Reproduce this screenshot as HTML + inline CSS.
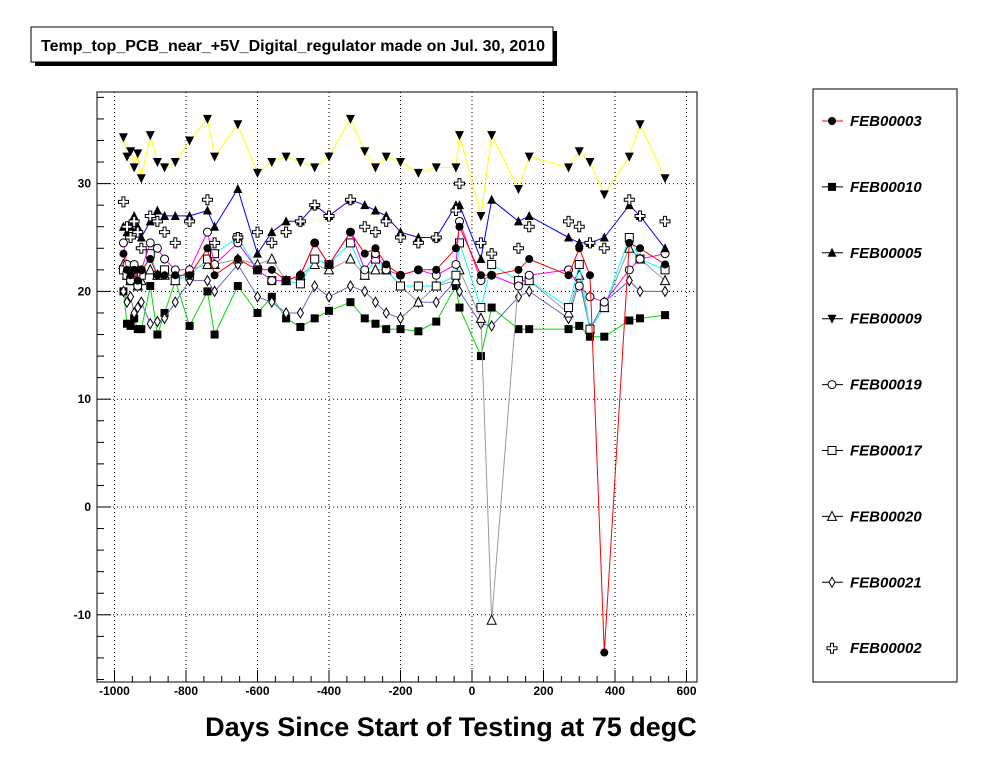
<!DOCTYPE html>
<html><head><meta charset="utf-8"><style>
body{margin:0;background:#fff;}
svg{display:block;font-family:"Liberation Sans",Arial,sans-serif;}
</style></head><body>
<svg id="c" width="996" height="772"></svg>
<script>
const days=[-975,-965,-955,-945,-935,-925,-900,-880,-860,-830,-790,-740,-720,-655,-600,-560,-520,-480,-440,-400,-340,-300,-270,-240,-200,-150,-100,-45,-35,25,55,130,160,270,300,330,370,440,470,540];
const s3=[23.5,22,21.5,22,21,22,23,21.5,21.5,21.5,21.5,24,21.5,23,22,22,21,21.5,24.5,22.5,25.5,23.5,24,22.5,21.5,22,22,24,26,21.5,21.5,22,23,21.5,24,21.5,-13.5,24.5,24,22.5];
const s10=[20,17,16.8,17.5,16.5,16.5,20.5,16,18,21,16.8,20,16,20.5,18,19.5,17.5,16.7,17.5,18.2,19,17.5,17,16.5,16.5,16.3,17.2,20.5,18.5,14,18.5,16.5,16.5,16.5,16.8,15.8,15.8,17.3,17.5,17.8];
const s5=[26,25.5,26,27,26,25,26.5,27.5,27,27,27,27.5,26,29.5,23.5,25.5,26.5,26.5,28,27,28.5,28,27.5,27,25.5,25,25,28,28,23,28.5,26.5,27,25,24.5,24.5,25,28,27,24];
const s9=[34.3,32.5,33,31.5,32.8,30.5,34.5,32,31.5,32,34,36,32.5,35.5,31,32,32.5,32,31.5,32.5,36,33,31.5,32.5,32,31,31.5,31.5,34.5,27,34.5,29.5,32.5,31.5,33,32,29,32.5,35.5,30.5];
const s19=[24.5,22.5,21,22.5,20.5,22,24.5,24,23,22,22,25.5,22.5,24.5,22,21,21,21.5,24.5,22.5,25.5,22,23.5,22,21.5,22,21.5,22.5,26.5,21,21.5,20.5,21.5,22,20.5,19.5,19,22,23,23.5];
const s17=[22,21.5,21,22,21,21.5,23.5,21.5,22,21,21.5,23,23.5,25,22,21,21,20.7,23,22.5,24.5,21.5,23,22,20.5,20.5,20.5,21.5,24.5,18.5,22.5,21,21,18.5,22.5,16.5,18.5,25,23,22];
const s20=[22.5,21.5,21,21,20.5,21,22,21.5,21.5,21,22,22.5,22.5,23,22.5,23,21,21.5,22.5,22,23,21.5,22,22,20.5,19,20.5,21,22,17.5,-10.5,21,21,18,21.5,16.5,18.5,24,23,21];
const s21=[20,19,19.5,18,18.5,19,17,17.2,17.5,19,21,21,20,22.5,19.5,19,18,18,20.5,19.5,20.5,20,19,18,17.5,19,19,21,20,17,16.8,19.5,20,17.5,21,16.5,19,21,20,20];
const s2=[28.3,26,25,26.5,25.5,24,27,26.5,25.5,24.5,26.5,28.5,24.5,25,25.5,24.5,25.5,26.5,28,27,28.5,26,25.5,26.5,25,24.5,25,27.5,30,24.5,23.5,24,26,26.5,26,24.5,24,28.5,27,26.5];
const xTicks=[-1000,-800,-600,-400,-200,0,200,400,600];
const yTicks=[-10,0,10,20,30];
const seriesNames=["FEB00003","FEB00010","FEB00005","FEB00009","FEB00019","FEB00017","FEB00020","FEB00021","FEB00002"];

const svg=document.getElementById('c');const NS='http://www.w3.org/2000/svg';
function mk(t,a,p){const e=document.createElementNS(NS,t);for(const k in a)e.setAttribute(k,a[k]);(p||svg).appendChild(e);return e;}
const L=97,R=697,T=92,B=682;
function X(v){return 472+v*0.3575;}
function Y(v){return 507-v*10.78;}

mk('rect',{x:35,y:31,width:522,height:35,fill:'#000'});
let tb=mk('rect',{x:31,y:27,width:522,height:35,fill:'#fff',stroke:'#000'});


let tt=mk('text',{x:41,y:51,'font-size':'15.5','font-weight':'bold',textLength:504,lengthAdjust:'spacingAndGlyphs'});
tt.textContent='Temp_top_PCB_near_+5V_Digital_regulator made on Jul. 30, 2010';



xTicks.forEach(v=>{mk('line',{x1:X(v),x2:X(v),y1:T,y2:B,stroke:'#000','stroke-dasharray':'1,3','stroke-width':1});});
yTicks.forEach(v=>{mk('line',{x1:L,x2:R,y1:Y(v),y2:Y(v),stroke:'#000','stroke-dasharray':'1,3'});});
let fr=mk('rect',{x:L,y:T,width:R-L,height:B-T,fill:'none',stroke:'#000'});


for(let v=-1000;v<=600;v+=50){const big=v%200==0;mk('line',{x1:X(v),x2:X(v),y1:B,y2:B-(big?12:6),stroke:'#000'});}
for(let v=-16;v<=38;v+=2){const big=v%10==0;mk('line',{x1:L,x2:L+(big?14:7),y1:Y(v),y2:Y(v),stroke:'#000'});}
xTicks.forEach(v=>{const t=mk('text',{x:X(v),y:B+13,'text-anchor':'middle','font-size':'12','font-weight':'bold'});t.textContent=v;

});
yTicks.forEach(v=>{const t=mk('text',{x:L-6,y:Y(v)+4,'text-anchor':'end','font-size':'12','font-weight':'bold'});t.textContent=v;

});
let xt=mk('text',{x:451,y:736,'text-anchor':'middle','font-size':'27','font-weight':'bold'});
xt.textContent='Days Since Start of Testing at 75 degC';



function marker(type,x,y,g){
  const s=4;
  if(type=='fc')mk('circle',{cx:x,cy:y,r:s,fill:'#000'},g);
  else if(type=='oc')mk('circle',{cx:x,cy:y,r:s,fill:'#fff',stroke:'#000'},g);
  else if(type=='fs')mk('rect',{x:x-s,y:y-s,width:2*s,height:2*s,fill:'#000'},g);
  else if(type=='os')mk('rect',{x:x-s,y:y-s,width:2*s,height:2*s,fill:'#fff',stroke:'#000'},g);
  else if(type=='ut')mk('polygon',{points:`${x},${y-5} ${x-4.5},${y+4} ${x+4.5},${y+4}`,fill:'#000'},g);
  else if(type=='dt')mk('polygon',{points:`${x},${y+5} ${x-4.5},${y-4} ${x+4.5},${y-4}`,fill:'#000'},g);
  else if(type=='ot')mk('polygon',{points:`${x},${y-5} ${x-4.5},${y+4} ${x+4.5},${y+4}`,fill:'#fff',stroke:'#000'},g);
  else if(type=='od')mk('polygon',{points:`${x},${y-5} ${x-3},${y} ${x},${y+5} ${x+3},${y}`,fill:'#fff',stroke:'#000'},g);
  else if(type=='cr')mk('path',{d:`M${x-1.5},${y-5}h3v3.5h3.5v3h-3.5v3.5h-3v-3.5h-3.5v-3h3.5z`,fill:'#fff',stroke:'#000'},g);
}
const defs=[[s3,'#ff0000','fc'],[s10,'#00dd00','fs'],[s5,'#0000ff','ut'],[s9,'#ffff00','dt'],[s19,'#ff00ff','oc'],[s17,'#00ffff','os'],[s20,'#999999','ot'],[s21,'#6666cc','od'],[s2,null,'cr']];
const drawOrder=[3,1,7,6,5,4,0,2,8];
drawOrder.forEach(i=>{
  const [vals,col,m]=defs[i];
  const g=mk('g',{});
  
  
  if(col){let d='';vals.forEach((v,k)=>{if(v==null)return;d+=(d?'L':'M')+X(days[k]).toFixed(1)+','+Y(v).toFixed(1);});
    mk('path',{d:d,fill:'none',stroke:col,'stroke-width':1},g);}
  vals.forEach((v,k)=>{if(v!=null)marker(m,X(days[k]),Y(v),g);});
});

let lg=mk('rect',{x:813,y:89,width:144,height:593,fill:'#fff',stroke:'#000'});


seriesNames.forEach((n,i)=>{
  const y=121+i*65.9;const g=mk('g',{});
  
  
  const col=i==0?'#ff0000':'#000';
  if(i<8)mk('line',{x1:822,x2:843,y1:y,y2:y,stroke:col},g);
  marker(defs[i][2],832,y,g);
  const t=mk('text',{x:850,y:y+5,'font-size':'15','font-weight':'bold','font-style':'italic'},g);t.textContent=n;
});
</script>
</body></html>
